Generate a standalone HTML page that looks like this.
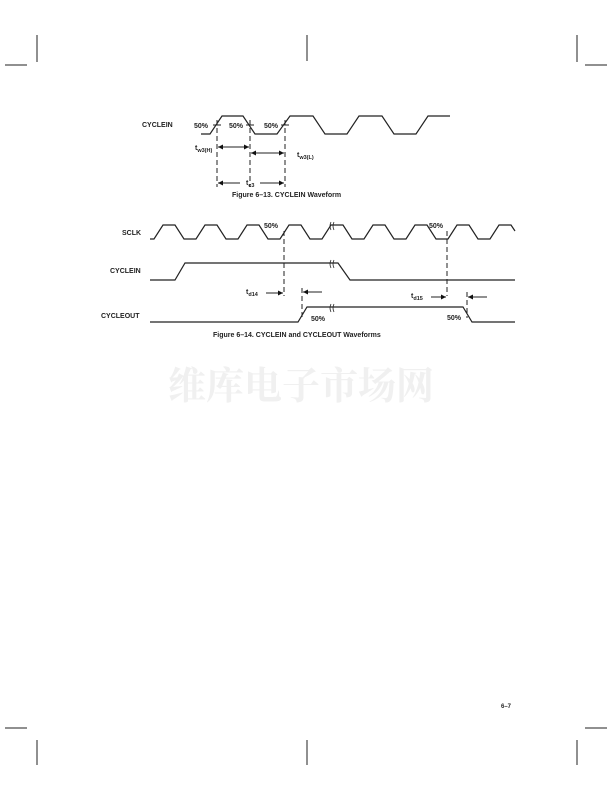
<!DOCTYPE html>
<html><head><meta charset="utf-8"><style>
html,body{margin:0;padding:0;background:#fff}
svg{display:block}
text{font-family:"Liberation Sans",Arial,sans-serif;font-weight:bold;fill:#222}
</style></head><body>
<svg width="612" height="792" viewBox="0 0 612 792" xmlns="http://www.w3.org/2000/svg">
<defs>
<marker id="a" viewBox="0 0 10 10" refX="10" refY="5" markerWidth="5" markerHeight="5" orient="auto-start-reverse"><path d="M0,0L10,5L0,10z" fill="#111"/></marker>
</defs>
<g stroke="#222" stroke-width="1" fill="none">
<line x1="5" y1="65" x2="27" y2="65"/><line x1="37" y1="35" x2="37" y2="62"/>
<line x1="307" y1="35" x2="307" y2="61"/>
<line x1="577" y1="35" x2="577" y2="62"/><line x1="585" y1="65" x2="607" y2="65"/>
<line x1="5" y1="728" x2="27" y2="728"/><line x1="37" y1="740" x2="37" y2="765"/>
<line x1="307" y1="740" x2="307" y2="765"/>
<line x1="577" y1="740" x2="577" y2="765"/><line x1="585" y1="728" x2="607" y2="728"/>

<polyline stroke-width="1.2" points="201,134 210,134 222,116 243,116 255,134 277,134 290,116 313,116 325,134 347,134 359,116 382,116 394,134 416,134 428,116 450,116"/>
<g stroke-dasharray="5,3">
<line x1="217" y1="120" x2="217" y2="187"/>
<line x1="250" y1="120" x2="250" y2="187"/>
<line x1="285" y1="120" x2="285" y2="187"/>
</g>
<line x1="218" y1="147" x2="249" y2="147" marker-start="url(#a)" marker-end="url(#a)"/>
<line x1="251" y1="153" x2="284" y2="153" marker-start="url(#a)" marker-end="url(#a)"/>
<line x1="218" y1="183" x2="240" y2="183" marker-start="url(#a)"/>
<line x1="260" y1="183" x2="284" y2="183" marker-end="url(#a)"/>
<line x1="213" y1="125" x2="221" y2="125"/><line x1="246" y1="125" x2="254" y2="125"/><line x1="281" y1="125" x2="289" y2="125"/>

<polyline stroke-width="1.2" points="150,239 154,239 163,225 175,225 184,239 196,239 205,225 217,225 226,239 238,239 247,225 259,225 268,239 280,239 289,225 301,225 310,239 322,239 331,225 343,225 352,239 364,239 373,225 385,225 394,239 406,239 415,225 427,225 436,239 448,239 457,225 469,225 478,239 490,239 499,225 511,225 515,231"/>
<polyline stroke-width="1.2" points="150,280 175,280 185,263 338,263 350,280 515,280"/>
<polyline stroke-width="1.2" points="150,322 298,322 307,307 463,307 472,322 515,322"/>
<g stroke-dasharray="5,3">
<line x1="284" y1="231" x2="284" y2="296"/>
<line x1="447" y1="231" x2="447" y2="296"/>
<line x1="302" y1="288" x2="302" y2="318"/>
<line x1="467" y1="292" x2="467" y2="318"/>
</g>
<line x1="266" y1="293" x2="283" y2="293" marker-end="url(#a)"/>
<line x1="322" y1="292" x2="303" y2="292" marker-end="url(#a)"/>
<line x1="431" y1="297" x2="446" y2="297" marker-end="url(#a)"/>
<line x1="487" y1="297" x2="468" y2="297" marker-end="url(#a)"/>
</g>
<g fill="none" stroke="#222" stroke-width="0.8">
<path d="M331,222 q-2,4 0,8 M334,222 q-2,4 0,8"/>
<path d="M331,260 q-2,4 0,8 M334,260 q-2,4 0,8"/>
<path d="M331,304 q-2,4 0,8 M334,304 q-2,4 0,8"/>
</g>
<g font-size="7">
<text x="142" y="127">CYCLEIN</text>
<text x="194" y="128">50%</text><text x="229" y="128">50%</text><text x="264" y="128">50%</text>
<text x="195" y="150">t<tspan font-size="5.5" dy="2">w3(H)</tspan></text>
<text x="297" y="157">t<tspan font-size="5.5" dy="2">w3(L)</tspan></text>
<text x="246" y="185">t<tspan font-size="5.5" dy="2">c3</tspan></text>
<text x="232" y="197" font-size="7">Figure 6–13.  CYCLEIN Waveform</text>
<text x="122" y="235">SCLK</text>
<text x="110" y="273">CYCLEIN</text>
<text x="101" y="318">CYCLEOUT</text>
<text x="264" y="228">50%</text><text x="429" y="228">50%</text>
<text x="311" y="321">50%</text><text x="447" y="320">50%</text>
<text x="246" y="294">t<tspan font-size="5.5" dy="2">d14</tspan></text>
<text x="411" y="298">t<tspan font-size="5.5" dy="2">d15</tspan></text>
<text x="213" y="337">Figure 6–14.  CYCLEIN and CYCLEOUT Waveforms</text>
<text x="501" y="708" font-size="6" font-weight="normal">6–7</text>
</g>
<text x="168" y="399" font-size="38" font-weight="normal" style="font-family:'Noto Serif CJK SC','Liberation Serif',serif;fill:#f0f0f0">维库电子市场网</text>
</svg>
</body></html>
